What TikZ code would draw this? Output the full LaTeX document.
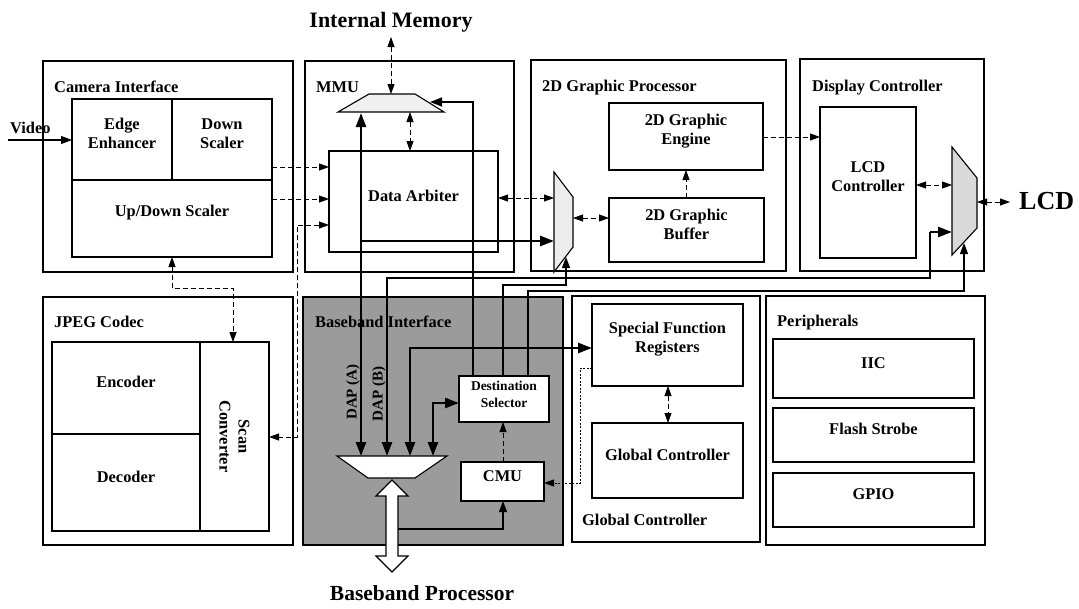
\documentclass[tikz,border=0pt]{standalone}
\usepackage{fontspec}
\setmainfont{Liberation Serif}
\usetikzlibrary{arrows.meta,calc,fit}
\definecolor{bbgray}{RGB}{155,155,155}
\begin{document}
\begin{tikzpicture}[x=1pt,y=-1pt,
  every node/.style={font=\bfseries\fontsize{16.4}{19}\selectfont},
  box/.style={draw,line width=1.1pt,inner sep=0pt,outer sep=0pt,align=center},
  ttl/.style={anchor=base west,inner sep=0pt},
  dsh/.style={line width=0.8pt,dash pattern=on 5pt off 3pt},
  dot/.style={line width=0.8pt,dash pattern=on 2pt off 1.5pt},
  thk/.style={line width=2.6pt,>={Triangle[length=14pt,width=10pt]}},
  med/.style={line width=1.5pt,>={Triangle[length=12pt,width=9pt]}},
  thn/.style={line width=1.1pt,>={Triangle[length=11pt,width=8pt]}},
  mux/.style={draw,line width=1.1pt},
  >={Triangle[length=10pt,width=7pt]}]
\useasboundingbox (0,0) rectangle (1079,608);
\fill[white] (0,0) rectangle (1079,608);

% ---------- Camera Interface
\node[box,fit={(43,61)(293,272)}] (cam) {};
\node[ttl] (camt) at (54,92) {Camera Interface};
\node[box,fit={(72,99)(172,180)}] (edge) {Edge\\Enhancer};
\node[box,fit={(172,99)(272,180)}] (down) {Down\\Scaler};
\node[box,fit={(72,180)(272,257)}] (updown) {Up/Down Scaler};

% ---------- MMU
\node[box,fit={(305,61)(514,272)}] (mmu) {};
\node[ttl] (mmut) at (316,92) {MMU};
\node[box,fit={(329,151)(498,252)}] (arb) {Data Arbiter};

% ---------- 2D Graphic Processor
\node[box,fit={(531,60)(786,271)}] (gp) {};
\node[ttl] (gpt) at (542,91) {2D Graphic Processor};
\node[box,fit={(609,103)(763,170)}] (eng) {2D Graphic\\Engine};
\node[box,fit={(609,198)(764,262)}] (buf) {2D Graphic\\Buffer};

% ---------- Display Controller
\node[box,fit={(800,59)(984,271)}] (disp) {};
\node[ttl] (dispt) at (812,91) {Display Controller};
\node[box,fit={(820,107)(916,258)}] (lcdc) {LCD\\Controller};

% ---------- JPEG Codec
\node[box,fit={(43,297)(293,545)}] (jpeg) {};
\node[ttl] (jpegt) at (54,327) {JPEG Codec};
\node[box,fit={(52,342)(200,434)}] (enc) {Encoder};
\node[box,fit={(52,434)(200,531)}] (dec) {Decoder};
\node[box,fit={(200,342)(269,531)}] (scan) {};
\node[rotate=-90,align=center] (scant) at (scan.center) {Scan\\Converter};

% ---------- Baseband Interface
\node[box,fill=bbgray,fit={(303,297)(563,545)}] (bb) {};
\node[ttl] (bbt) at (315,327) {Baseband Interface};
\node[box,fill=white,fit={(459,376)(549,422)},font=\bfseries\fontsize{13.5}{17}\selectfont] (dest) {Destination\\Selector};
\node[box,fill=white,fit={(461,462)(544,501)}] (cmu) {CMU};
\node[rotate=90,font=\bfseries\fontsize{15}{17}\selectfont] (dapa) at (353,392) {DAP (A)};
\node[rotate=90,font=\bfseries\fontsize{15}{17}\selectfont] (dapb) at (379,394) {DAP (B)};

% ---------- Global Controller
\node[box,fit={(572,296)(760,542)}] (gc) {};
\node[ttl] (gct) at (582,525) {Global Controller};
\node[box,fit={(592,304)(743,386)}] (sfr) {Special Function\\Registers};
\node[box,fit={(592,423)(743,498)}] (gci) {Global Controller};

% ---------- Peripherals
\node[box,fit={(766,296)(985,545)}] (per) {};
\node[ttl] (pert) at (777,326) {Peripherals};
\node[box,fit={(773,339)(974,398)}] (iic) {IIC};
\node[box,fit={(773,408)(974,462)}] (flash) {Flash Strobe};
\node[box,fit={(773,473)(974,527)}] (gpio) {GPIO};

% ---------- outside labels
\node[anchor=base,font=\bfseries\fontsize{22}{24}\selectfont] (imem) at (391,27) {Internal Memory};
\node[anchor=base,font=\bfseries\fontsize{21.5}{24}\selectfont] (bbp) at (422,600) {Baseband Processor};
\node[anchor=base west,font=\bfseries\fontsize{26}{28}\selectfont,inner sep=0pt] (lcd) at (1019,209) {LCD};
\node[anchor=base west,inner sep=0pt] (vid) at (10,133) {Video};

% ---------- multiplexers
\draw[mux,fill=gray!12] (369,94) -- (415,94) -- (444,112) -- (338,112) -- cycle;
\coordinate (mmux) at (391,103);
\draw[mux,fill=white] (337,456) -- (447,456) -- (415,478) -- (368,478) -- cycle;
\coordinate (bmux) at (392,467);
\draw[mux,fill=gray!15] (554,172) -- (573,197) -- (573,247) -- (554,272) -- cycle;
\coordinate (gmux) at (563,222);
\draw[mux,fill=gray!30] (952,147) -- (977,178) -- (977,228) -- (952,255) -- cycle;
\coordinate (lmux) at (965,201);

% ---------- dashed connectors
\coordinate (vin) at (8,140);
\draw[thn,->] (vin) -- (edge.west |- vin);
\draw[dsh,->] (down.east |- 0,167) -- (arb.west |- 0,167);
\draw[dsh,->] (updown.east |- 0,199) -- (arb.west |- 0,199);
\draw[dsh,<->] (arb.west |- 0,225) -- (297,225) -- (297,437) -- (scan.east |- 0,437);
\draw[dsh,<->] (updown.south) -- (172,288) -- (233,288) -- (scan.north -| 233,0);
\draw[dsh,<->] (imem.south |- 0,37) -- (mmux |- 0,94);
\draw[dsh,<->] (410,112) -- (arb.north -| 410,0);
\draw[dsh,<->] (arb.east |- 0,198) -- (554,198);
\draw[dsh,<->] (573,218) -- (buf.west |- 0,218);
\draw[dsh,->] (buf.north -| 686,0) -- (eng.south -| 686,0);
\draw[dsh,->] (eng.east |- 0,137) -- (lcdc.west |- 0,137);
\draw[dsh,<->] (lcdc.east |- 0,185) -- (952,185);
\draw[dsh,<->] (977,202) -- (1010,202);
\draw[dsh,<->] (sfr.south -| 668,0) -- (gci.north -| 668,0);
\draw[dot,->] (sfr.west |- 0,368) -- (580,368) -- (580,483) -- (cmu.east |- 0,483);
\draw[dsh,->] (cmu.north -| 503,0) -- (dest.south -| 503,0);
\draw[thn,->] (398,529) -- (503,529) -- (cmu.south -| 503,0);

% ---------- thick buses
\draw[thk,<->] (361,113) -- (361,456);
\draw[thk,->] (361,241) -- (554,241);
\draw[thk,->] (930,232) -- (930,278) -- (387,278) -- (387,456);
\draw[thk,->] (930,232) -- (952,232);
\draw[thk,<->] (410,456) -- (410,348) -- (sfr.west |- 0,348);
\draw[thk,<->] (433,456) -- (433,403) -- (dest.west |- 0,403);

% ---------- destination selector outputs
\draw[med,->] (dest.north -| 473,0) -- (473,102) -- (430,102);
\draw[thn,->] (dest.north -| 503,0) -- (503,285) -- (566,285) -- (566,257);
\draw[thn,->] (dest.north -| 528,0) -- (528,291) -- (964,291) -- (964,243);

% ---------- hollow double arrow to baseband processor
\draw[line width=1.1pt,fill=white] (392,480) -- (408,496) -- (398,496) -- (398,556) -- (408,556) -- (392,572) -- (376,556) -- (386,556) -- (386,496) -- (376,496) -- cycle;
\end{tikzpicture}
\end{document}
